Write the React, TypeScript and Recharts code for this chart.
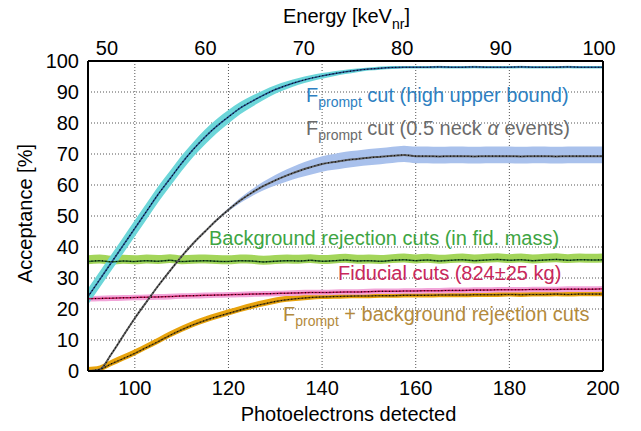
import { Area, CartesianGrid, ComposedChart, Line, XAxis, YAxis } from "recharts";

// photoelectrons (x) — one row per 2.5 PE
const PE = [
  90, 92.5, 95, 97.5, 100, 102.5, 105, 107.5, 110, 112.5, 115, 117.5, 120, 122.5, 125,
  127.5, 130, 132.5, 135, 137.5, 140, 142.5, 145, 147.5, 150, 152.5, 155, 157.5, 160,
  162.5, 165, 167.5, 170, 172.5, 175, 177.5, 180, 182.5, 185, 187.5, 190, 192.5, 195,
  197.5, 200,
];

// Fprompt cut (high upper bound)
const HIGH = [
  24, 29.5, 35, 40.5, 46, 51.5, 57, 62, 67, 71.5, 75.5, 79, 82, 84.8, 87, 89, 90.8, 92.2,
  93.4, 94.4, 95.2, 95.9, 96.5, 97, 97.4, 97.7, 97.9, 98, 98, 98, 98.1, 98, 98, 98.1, 98,
  98, 98, 98.1, 98, 98, 98, 98.1, 98, 98, 98,
];
const HIGH_ERR = [
  2.6, 2.6, 2.6, 2.6, 2.6, 2.6, 2.6, 2.5, 2.5, 2.4, 2.4, 2.3, 2.2, 2.0, 1.8, 1.6, 1.4, 1.25,
  1.1, 1.0, 0.9, 0.8, 0.7, 0.6, 0.5, 0.5, 0.45, 0.4, 0.4, 0.4, 0.4, 0.4, 0.4, 0.4, 0.4, 0.4,
  0.4, 0.4, 0.4, 0.4, 0.4, 0.4, 0.4, 0.4, 0.4,
];

// Fprompt cut (0.5 neck alpha events)
const NECK = [
  0, 0.5, 5.5, 11.3, 17, 22.3, 27.5, 32.3, 37, 41.2, 45, 48.7, 52, 55, 57.5, 59.7, 61.5,
  63.1, 64.5, 65.7, 66.8, 67.4, 68, 68.4, 68.8, 69.1, 69.4, 69.7, 69.3, 69.3, 69.2, 69.3,
  69.3, 69.2, 69.3, 69.3, 69.3, 69.2, 69.3, 69.3, 69.2, 69.3, 69.3, 69.3, 69.3,
];
const NECK_UP = [
  0, 0, 0, 0, 0, 0, 0, 0.1, 0.1, 0.2, 0.2, 0.3, 0.5, 0.8, 1.1, 1.4, 1.7, 2.0, 2.2, 2.4, 2.5,
  2.6, 2.7, 2.7, 2.8, 2.8, 2.9, 3.0, 3.1, 3.1, 3.1, 3.1, 3.1, 3.1, 3.1, 3.1, 3.1, 3.1, 3.1,
  3.1, 3.1, 3.1, 3.1, 3.1, 3.1,
];
const NECK_DN = [
  0, 0, 0, 0, 0, 0, 0, 0.1, 0.1, 0.2, 0.2, 0.3, 0.5, 0.8, 1.1, 1.4, 1.7, 2.0, 2.2, 2.4, 2.5,
  2.5, 2.5, 2.4, 2.4, 2.4, 2.3, 2.3, 2.3, 2.3, 2.3, 2.3, 2.3, 2.3, 2.3, 2.3, 2.3, 2.3, 2.3,
  2.3, 2.3, 2.3, 2.3, 2.3, 2.3,
];

// background rejection cuts (in fid. mass)
const BG = [
  35.3, 35.6, 35.2, 35.5, 35.3, 35.6, 35.4, 35.7, 35.3, 35.5, 35.6, 35.4, 35.3, 35.6, 35.5,
  35.2, 35.4, 35.6, 35.5, 35.7, 35.4, 35.6, 35.8, 35.5, 35.6, 35.4, 35.7, 35.9, 35.6, 35.8,
  35.5, 35.7, 35.9, 35.6, 35.8, 36.0, 35.7, 35.9, 35.6, 35.8, 36.0, 35.7, 35.9, 35.8, 35.9,
];
const BG_UP = 2.0;
const BG_DN = 0.9;

// fiducial cuts (824±25 kg)
const FID = [
  23.3, 23.4, 23.5, 23.6, 23.7, 23.8, 23.9, 24.0, 24.2, 24.3, 24.4, 24.5, 24.6, 24.7, 24.8,
  24.9, 25.0, 25.1, 25.2, 25.3, 25.3, 25.4, 25.5, 25.5, 25.6, 25.7, 25.7, 25.8, 25.8, 25.9,
  25.9, 26.0, 26.0, 26.1, 26.1, 26.2, 26.2, 26.2, 26.3, 26.3, 26.3, 26.4, 26.4, 26.4, 26.5,
];
const FID_ERR = 0.9;

// Fprompt + background rejection cuts
const COMBO = [
  0, 0.5, 2.3, 4, 5.7, 7.6, 9.5, 11.5, 13.3, 14.9, 16.3, 17.5, 18.6, 19.7, 20.7, 21.6, 22.4,
  23.0, 23.4, 23.7, 23.9, 24.0, 24.1, 24.2, 24.2, 24.3, 24.3, 24.4, 24.4, 24.4, 24.5, 24.5,
  24.5, 24.6, 24.6, 24.6, 24.7, 24.6, 24.7, 24.7, 24.8, 24.7, 24.8, 24.8, 24.8,
];
const COMBO_UP = 1.3;
const COMBO_DN = 0.7;

const PE_TICKS = [100, 120, 140, 160, 180, 200];
const PE_MINOR = [
  90, 95, 100, 105, 110, 115, 120, 125, 130, 135, 140, 145, 150, 155, 160, 165, 170, 175,
  180, 185, 190, 195, 200,
];
const KEV_TICKS = [50, 60, 70, 80, 90, 100];
const KEV_MINOR = [
  50, 52, 54, 56, 58, 60, 62, 64, 66, 68, 70, 72, 74, 76, 78, 80, 82, 84, 86, 88, 90, 92,
  94, 96, 98, 100,
];
const ACC_TICKS = [0, 10, 20, 30, 40, 50, 60, 70, 80, 90, 100];
const ACC_MINOR = [
  0, 2, 4, 6, 8, 10, 12, 14, 16, 18, 20, 22, 24, 26, 28, 30, 32, 34, 36, 38, 40, 42, 44, 46,
  48, 50, 52, 54, 56, 58, 60, 62, 64, 66, 68, 70, 72, 74, 76, 78, 80, 82, 84, 86, 88, 90, 92,
  94, 96, 98, 100,
];

// energy scale on top: keV at the left / right edge of the PE range
const KEV_AT_90 = 48.07;
const KEV_AT_200 = 100.4;
const kevToPe = (k: number) => 90 + ((k - KEV_AT_90) * 110) / (KEV_AT_200 - KEV_AT_90);
const peToKev = (p: number) => KEV_AT_90 + ((p - 90) * (KEV_AT_200 - KEV_AT_90)) / 110;

const data = PE.map((pe, i) => ({
  pe,
  high: HIGH[i],
  highBand: [HIGH[i] - HIGH_ERR[i], HIGH[i] + HIGH_ERR[i]],
  neck: NECK[i],
  neckBand: [NECK[i] - NECK_DN[i], NECK[i] + NECK_UP[i]],
  bg: BG[i],
  bgBand: [BG[i] - BG_DN, BG[i] + BG_UP],
  fid: FID[i],
  fidBand: [FID[i] - FID_ERR, FID[i] + FID_ERR],
  combo: COMBO[i],
  comboBand: [Math.max(0, COMBO[i] - COMBO_DN), COMBO[i] + COMBO_UP],
}));

const W = 641;
const H = 431;
const FONT = "'Liberation Sans', Arial, Helvetica, sans-serif";
const TICK = { fill: "#000", fontSize: 20 };
const FRAME = { stroke: "#000", strokeWidth: 2 };
const TICKLINE = { stroke: "#000", strokeWidth: 1.3 };

const SERIES = [
  { key: "combo", band: "#e8a30c", line: "#7a5a10", w: 1.5 },
  { key: "fid", band: "#f2a5d9", line: "#c3185b", w: 1.5 },
  { key: "bg", band: "#a3d55a", line: "#2a6a2a", w: 1.5 },
  { key: "neck", band: "#a9c1ec", line: "#5c5c5c", w: 2 },
  { key: "high", band: "#6cd6d9", line: "#1f4e8c", w: 1.5 },
];

export default function App() {
  return (
    <div style={{ position: "absolute", left: 0, top: 0, width: W, height: H, fontFamily: FONT, background: "#fff" }}>
      <ComposedChart width={W} height={H} data={data} margin={{ top: 60, right: 37, bottom: 59, left: 87 }}>
        <CartesianGrid
          xAxisId="pe"
          yAxisId="acc"
          stroke="#555"
          strokeDasharray="1 2"
          strokeWidth={1}
        />
        {SERIES.map((s) => (
          <Area
            key={s.key + "Band"}
            xAxisId="pe"
            yAxisId="acc"
            type="monotone"
            dataKey={s.key + "Band"}
            stroke="none"
            fill={s.band}
            fillOpacity={1}
            isAnimationActive={false}
            activeDot={false}
          />
        ))}
        {SERIES.map((s) => (
          <Line
            key={s.key + "Line"}
            xAxisId="pe"
            yAxisId="acc"
            type="monotone"
            dataKey={s.key}
            stroke={s.line}
            strokeWidth={s.w}
            dot={false}
            activeDot={false}
            isAnimationActive={false}
          />
        ))}
        {SERIES.map((s) => (
          <Line
            key={s.key + "Dots"}
            xAxisId="pe"
            yAxisId="acc"
            type="monotone"
            dataKey={s.key}
            stroke="#000"
            strokeWidth={1.1}
            strokeDasharray="1 2.5"
            dot={false}
            activeDot={false}
            isAnimationActive={false}
          />
        ))}

        {/* bottom: photoelectrons */}
        <XAxis xAxisId="pe" dataKey="pe" type="number" domain={[90, 200]} ticks={PE_TICKS}
          height={1} tickSize={0} tickMargin={10} tick={TICK} tickLine={false} axisLine={FRAME} allowDataOverflow />
        <XAxis xAxisId="peMajor" dataKey="pe" type="number" domain={[90, 200]} ticks={PE_TICKS} mirror
          height={0} tickSize={8} tick={false} tickLine={TICKLINE} axisLine={false} allowDataOverflow />
        <XAxis xAxisId="peMinor" dataKey="pe" type="number" domain={[90, 200]} ticks={PE_MINOR} mirror
          height={0} tickSize={4} tick={false} tickLine={TICKLINE} axisLine={false} allowDataOverflow />

        {/* top: energy, placed on the same PE scale */}
        <XAxis xAxisId="kev" dataKey="pe" orientation="top" type="number" domain={[90, 200]}
          ticks={KEV_TICKS.map(kevToPe)} tickFormatter={(v) => String(Math.round(peToKev(v)))}
          height={1} tickSize={0} tickMargin={6} tick={TICK} tickLine={false} axisLine={FRAME} allowDataOverflow />
        <XAxis xAxisId="kevMajor" dataKey="pe" orientation="top" type="number" domain={[90, 200]}
          ticks={KEV_TICKS.map(kevToPe)} mirror
          height={0} tickSize={8} tick={false} tickLine={TICKLINE} axisLine={false} allowDataOverflow />
        <XAxis xAxisId="kevMinor" dataKey="pe" orientation="top" type="number" domain={[90, 200]}
          ticks={KEV_MINOR.map(kevToPe)} mirror
          height={0} tickSize={4} tick={false} tickLine={TICKLINE} axisLine={false} allowDataOverflow />

        {/* left / right: acceptance */}
        <YAxis yAxisId="acc" type="number" domain={[0, 100]} ticks={ACC_TICKS}
          width={1} tickSize={0} tickMargin={9} tick={TICK} tickLine={false} axisLine={FRAME} allowDataOverflow />
        <YAxis yAxisId="accMajor" type="number" domain={[0, 100]} ticks={ACC_TICKS} mirror
          width={0} tickSize={8} tick={false} tickLine={TICKLINE} axisLine={false} allowDataOverflow />
        <YAxis yAxisId="accMinor" type="number" domain={[0, 100]} ticks={ACC_MINOR} mirror
          width={0} tickSize={4} tick={false} tickLine={TICKLINE} axisLine={false} allowDataOverflow />
        <YAxis yAxisId="accR" orientation="right" type="number" domain={[0, 100]} ticks={ACC_TICKS}
          width={1} tickSize={0} tick={false} tickLine={false} axisLine={FRAME} allowDataOverflow />
        <YAxis yAxisId="accRMajor" orientation="right" type="number" domain={[0, 100]} ticks={ACC_TICKS} mirror
          width={0} tickSize={8} tick={false} tickLine={TICKLINE} axisLine={false} allowDataOverflow />
        <YAxis yAxisId="accRMinor" orientation="right" type="number" domain={[0, 100]} ticks={ACC_MINOR} mirror
          width={0} tickSize={4} tick={false} tickLine={TICKLINE} axisLine={false} allowDataOverflow />
      </ComposedChart>

      <svg width={W} height={H} style={{ position: "absolute", left: 0, top: 0, pointerEvents: "none" }}>
        <text x={283} y={23} fontSize={20} fill="#000">
          Energy [keV<tspan fontSize={14} dy={6}>nr</tspan><tspan dy={-6}>]</tspan>
        </text>
        <text x={348.5} y={421} fontSize={20} fill="#000" textAnchor="middle">
          Photoelectrons detected
        </text>
        <text transform="translate(32,213.5) rotate(-90)" fontSize={20} fill="#000" textAnchor="middle">
          Acceptance [%]
        </text>

        <text x={306} y={102} fontSize={20} fill="#2e7fc1">
          F<tspan fontSize={14} dy={5}>prompt</tspan><tspan dy={-5}>{" cut (high upper bound)"}</tspan>
        </text>
        <text x={306} y={135} fontSize={20} fill="#6b6b6b">
          F<tspan fontSize={14} dy={5}>prompt</tspan><tspan dy={-5}>{" cut (0.5 neck "}</tspan>
          <tspan fontStyle="italic">α</tspan>
          <tspan>{" events)"}</tspan>
        </text>
        <text x={209} y={245} fontSize={20} fill="#3ea543">
          Background rejection cuts (in fid. mass)
        </text>
        <text x={338} y={280} fontSize={20} fill="#c8285c">
          Fiducial cuts (824±25 kg)
        </text>
        <text x={283} y={321} fontSize={20} fill="#b38a3c">
          F<tspan fontSize={14} dy={5}>prompt</tspan><tspan dy={-5}>{" + background rejection cuts"}</tspan>
        </text>
      </svg>
    </div>
  );
}
